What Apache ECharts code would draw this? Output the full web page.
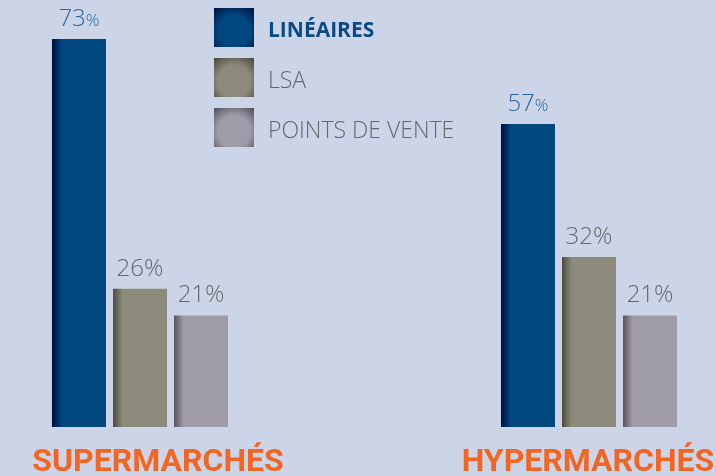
<!DOCTYPE html>
<html>
<head>
<meta charset="utf-8">
<script src="https://cdn.jsdelivr.net/npm/echarts@6/dist/echarts.min.js"></script>
<style>
  html, body { margin: 0; padding: 0; background: #ccd5e7; }
  #container { width: 716px; height: 476px; }
</style>
</head>
<body>
<div id="container"></div>
<script>
var categories = ['SUPERMARCHÉS', 'HYPERMARCHÉS'];
var seriesNames = ['LINÉAIRES', 'LSA', 'POINTS DE VENTE'];
var lineairesValues = [73, 57];
var lsaValues = [26, 32];
var pointsValues = [21, 21];

var font = '"Open Sans", sans-serif';

// couleur de barre avec bord gauche sombre
function barColor(dark, main) {
    return new echarts.graphic.LinearGradient(0, 0, 1, 0, [
        { offset: 0, color: dark },
        { offset: 0.18, color: main },
        { offset: 1, color: main }
    ]);
}
function iconColor(dark, main) {
    return new echarts.graphic.RadialGradient(0.5, 0.6, 0.75, [
        { offset: 0, color: main },
        { offset: 0.55, color: main },
        { offset: 1, color: dark }
    ]);
}

var myChart = echarts.init(document.getElementById('container'));

var option = {
    backgroundColor: '#ccd5e7',
    animation: false,
    legend: {
        orient: 'vertical',
        left: 214,
        top: 8,
        padding: 0,
        itemWidth: 40,
        itemHeight: 39,
        itemGap: 11,
        icon: 'rect',
        formatter: function (name) {
            return (name === seriesNames[0] ? '{b|' : '{n|') + name + '}';
        },
        textStyle: {
            rich: {
                b: { fontFamily: font, fontWeight: 'bold', fontSize: 21, color: '#0b4a86', padding: [8, 0, 0, 9] },
                n: { fontFamily: font, fontWeight: 300, fontSize: 23, color: '#66676b', padding: [8, 0, 0, 9] }
            }
        },
        data: [
            { name: seriesNames[0], itemStyle: { color: iconColor('#001545', '#00467f') } },
            { name: seriesNames[1], itemStyle: { color: iconColor('#4e4d40', '#8b8a7b') } },
            { name: seriesNames[2], itemStyle: { color: iconColor('#5a5561', '#a09ba8') } }
        ]
    },
    grid: { left: 140, right: 127, top: 39, bottom: 49, outerBoundsMode: 'none' },
    xAxis: {
        type: 'category',
        boundaryGap: false,
        data: [
            { value: categories[0], textStyle: { padding: [0, 0, 0, 36] } },
            { value: categories[1], textStyle: { padding: [0, 2, 0, 0] } }
        ],
        axisLine: { show: false },
        axisTick: { show: false },
        axisLabel: {
            interval: 0,
            showMinLabel: true,
            showMaxLabel: true,
            hideOverlap: false,
            margin: 20,
            fontFamily: '"Roboto", sans-serif',
            fontWeight: 'bold',
            fontSize: 32,
            color: '#f26522'
        }
    },
    yAxis: {
        type: 'value',
        min: 0,
        max: 73,
        show: false,
        splitLine: { show: false }
    },
    series: [
        {
            name: seriesNames[0],
            type: 'bar',
            data: lineairesValues,
            barWidth: 54,
            barGap: '13%',
            itemStyle: { color: barColor('#000d3f', '#00467f') },
            label: {
                show: true,
                position: 'top',
                distance: 8,
                formatter: function (p) { return '{n|' + p.value + '}{p|%}'; },
                rich: {
                    n: { fontFamily: font, fontWeight: 300, fontSize: 24, color: '#2a66a3' },
                    p: { fontFamily: font, fontWeight: 300, fontSize: 17, color: '#2a66a3', padding: [4, 0, 0, 0] }
                }
            }
        },
        {
            name: seriesNames[1],
            type: 'bar',
            data: lsaValues,
            barWidth: 54,
            barGap: '13%',
            itemStyle: { color: barColor('#4b4a3c', '#8b8a7b') },
            label: {
                show: true,
                position: 'top',
                distance: 8,
                formatter: '{c}%',
                fontFamily: font,
                fontWeight: 300,
                fontSize: 24,
                color: '#66676b'
            }
        },
        {
            name: seriesNames[2],
            type: 'bar',
            data: pointsValues,
            barWidth: 54,
            barGap: '13%',
            itemStyle: { color: barColor('#57525e', '#a09ba8') },
            label: {
                show: true,
                position: 'top',
                distance: 8,
                formatter: '{c}%',
                fontFamily: font,
                fontWeight: 300,
                fontSize: 24,
                color: '#66676b'
            }
        }
    ]
};

myChart.setOption(option);
</script>
</body>
</html>
